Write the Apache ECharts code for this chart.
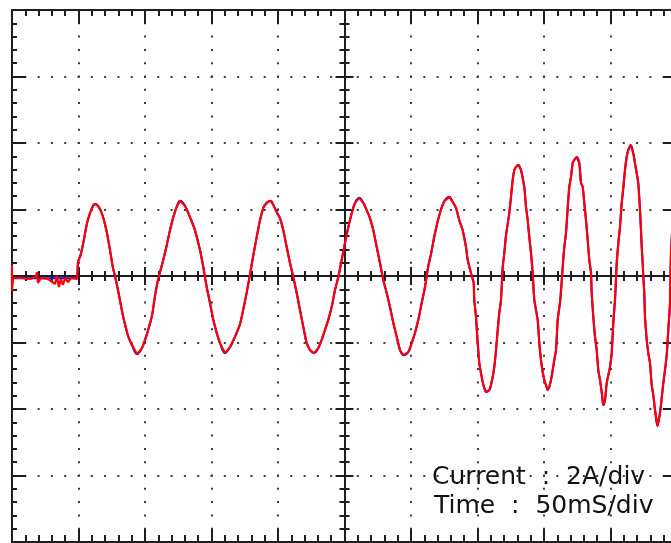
<!DOCTYPE html>
<html>
<head>
<meta charset="utf-8">
<script src="https://cdn.jsdelivr.net/npm/echarts@6/dist/echarts.min.js"></script>
<style>
html, body { margin: 0; padding: 0; background: #fff; }
#scope { width: 671px; height: 543px; }
</style>
</head>
<body>
<div id="scope"></div>
<script>
// scope settings: 50 mS/div across, 2 A/div up
var timeRange = [0, 500];
var timeDiv = 50;
var centreRange = [-250, 250];   // same screen, counted from the centre line
var currentRange = [-8, 8];
var currentDiv = 2;
var scaleText = ['Current  :  2A/div', 'Time  :  50mS/div'];

// [ms, A] before the trigger (red channel is noisy, blue is clean)
var redLead = [
    [0, 0.33], [0, -0.45], [0.8, -0.06], [7.5, -0.06], [13.5, -0.09], [18.0, -0.03],
    [18.8, 0.12], [19.5, -0.21], [21.8, -0.06], [27.1, -0.09], [32.3, -0.24], [33.8, 0.0],
    [35.3, -0.33], [36.8, -0.09], [38.3, -0.27], [39.9, -0.06], [42.1, -0.18], [44.4, -0.06],
    [48.9, -0.09], [49.6, 0.42]
];
var blueLead = [[0, -0.07], [49.2, -0.07], [49.6, 0.42]];

// [ms, A] after the trigger, both channels
var sweep = [
    [51.5, 0.62], [53.38, 0.95], [56.39, 1.59], [58.65, 1.89], [60.90, 2.11], [62.41, 2.17], [64.66, 2.11],
    [66.92, 1.95], [69.17, 1.68], [71.43, 1.29], [73.68, 0.78], [75.94, 0.24], [77.44, 0],
    [79.70, -0.42], [83.46, -1.20], [87.22, -1.80], [90.23, -2.08], [93.99, -2.35], [97.74, -2.17],
    [101.50, -1.74], [105.26, -1.20], [107.52, -0.60], [109.77, -0.12],
    [113.53, 0.45], [116.31, 0.92], [118.80, 1.38], [121.28, 1.77], [123.83, 2.08], [126.32, 2.26],
    [130.08, 2.11], [133.83, 1.77], [137.59, 1.38], [141.35, 0.78], [143.83, 0.27],
    [146.39, -0.33], [148.87, -0.81], [151.35, -1.32], [153.91, -1.71], [156.39, -2.02], [160.15, -2.32],
    [163.91, -2.14], [167.67, -1.83], [171.43, -1.45], [173.91, -1.0], [176.47, -0.5],
    [178.95, 0.05], [181.43, 0.62], [183.98, 1.17], [186.47, 1.68], [188.95, 2.05], [191.50, 2.20],
    [194.51, 2.26], [196.47, 2.14], [199.02, 1.92], [201.50, 1.74], [203.99, 1.38], [206.54, 0.87],
    [209.02, 0.39], [211.50, -0.03],
    [214.06, -0.51], [216.54, -1.02], [219.02, -1.53], [221.58, -2.02], [224.06, -2.23], [227.07, -2.32],
    [230.30, -2.17], [232.86, -1.92], [235.34, -1.62], [237.82, -1.32], [240.38, -0.93], [242.86, -0.42],
    [245.34, -0.03],
    [247.89, 0.48], [250.38, 0.99], [252.86, 1.47], [255.41, 1.89], [257.89, 2.20], [261.13, 2.35],
    [264.14, 2.20], [266.69, 1.98], [269.17, 1.74], [271.65, 1.38], [274.21, 0.87], [276.69, 0.39],
    [279.17, -0.12], [281.73, -0.51], [284.21, -0.93], [286.69, -1.41], [289.25, -1.83], [291.73, -2.23],
    [294.21, -2.38], [297.97, -2.29], [300.53, -2.02], [303.01, -1.71], [305.49, -1.32], [308.05, -0.81],
    [310.53, -0.33],
    [313.01, 0.30], [315.04, 0.66], [317.52, 1.19], [320.08, 1.65], [322.56, 2.00], [325.04, 2.25],
    [328.80, 2.38], [331.35, 2.23], [333.83, 2.05], [336.32, 1.68], [338.87, 1.38], [341.35, 0.87],
    [342.63, 0.48], [345.11, 0.09],
    [347.14, -0.21], [347.59, -0.72], [348.87, -1.23], [350.15, -2.02], [351.35, -2.62], [352.63, -2.92],
    [353.91, -3.19], [355.11, -3.37], [356.39, -3.49], [358.87, -3.43], [360.15, -3.28], [361.43, -3.04],
    [362.63, -2.74], [363.91, -2.23], [365.19, -1.62], [366.39, -1.11], [367.67, -0.72],
    [368.95, 0.27], [370.15, 0.69], [371.43, 1.23], [373.91, 1.89], [376.47, 2.89], [377.67, 3.19],
    [378.95, 3.28], [380.68, 3.34], [382.71, 3.19], [385.19, 2.68], [386.47, 2.08], [387.74, 1.68],
    [388.95, 1.17], [390.23, 0.69], [391.50, 0.09],
    [392.71, -0.72], [395.26, -1.32], [396.47, -2.02], [397.74, -2.53], [399.02, -2.89], [400.22, -3.13],
    [401.50, -3.28], [402.78, -3.43], [403.98, -3.34], [405.26, -3.13], [406.54, -2.83], [407.74, -2.53],
    [409.02, -2.23], [410.30, -1.32], [412.26, -0.72],
    [414.06, 0.27], [415.26, 0.87], [416.54, 1.29], [417.82, 2.05], [419.02, 2.68], [420.30, 2.98],
    [421.58, 3.40], [422.78, 3.49], [424.59, 3.58], [426.54, 3.40], [427.82, 2.80], [429.10, 2.68],
    [430.30, 2.20], [431.58, 1.68], [432.86, 1.08], [434.06, 0.48], [435.34, 0.09],
    [435.86, -0.51], [437.07, -1.23], [438.35, -1.83], [439.62, -2.23], [440.83, -2.83], [442.11, -3.13],
    [443.38, -3.49], [444.59, -3.88], [445.86, -3.73], [447.14, -3.22], [449.62, -2.74], [450.90, -2.32],
    [452.10, -1.41], [453.38, -0.72],
    [454.66, 0.38], [455.86, 0.98], [457.14, 1.48], [458.42, 2.19], [459.62, 2.64], [460.90, 3.19],
    [462.18, 3.59], [463.38, 3.79], [465.18, 3.94], [467.14, 3.69], [468.42, 3.39], [469.70, 3.09],
    [470.90, 2.79], [472.18, 1.98], [472.93, 1.38], [473.46, 0.88], [474.21, 0.38], [474.66, -0.02],
    [475.41, -0.52], [475.94, -1.23], [477.21, -1.92], [478.41, -2.32], [479.70, -2.62], [480.98, -3.28],
    [482.18, -3.58], [483.46, -4.03], [485.34, -4.51], [487.22, -4.12], [488.50, -3.67], [489.70, -3.22],
    [490.98, -2.83], [492.26, -2.38], [493.46, -1.62], [494.74, -0.81], [495.49, 0.69], [497.74, 2.29]
];

var ink = '#1e1e1e';
var dots = { color: '#3c3c3c', width: 2, type: [2, 11.3], dashOffset: 1 };

function timeAxis(range, position, inside, len, minorLen, onZero, grid) {
    return {
        type: 'value', position: position,
        min: range[0], max: range[1], interval: timeDiv,
        axisLine: { show: true, onZero: onZero, onZeroAxisIndex: 0, lineStyle: { color: ink, width: 2 } },
        axisTick: { show: true, inside: inside, length: len, lineStyle: { color: ink, width: 2 } },
        minorTick: { show: true, splitNumber: 5, length: minorLen, lineStyle: { color: ink, width: 2 } },
        axisLabel: { show: false },
        splitLine: { show: grid, lineStyle: dots }
    };
}

function currentAxis(position, inside, len, minorLen, onZero, grid) {
    return {
        type: 'value', position: position,
        min: currentRange[0], max: currentRange[1], interval: currentDiv,
        // the centre one sits on zero of the centred time axis (index 2)
        axisLine: { show: true, onZero: onZero, onZeroAxisIndex: 2, lineStyle: { color: ink, width: 2 } },
        axisTick: { show: true, inside: inside, length: len, lineStyle: { color: ink, width: 2 } },
        minorTick: { show: true, splitNumber: 5, length: minorLen, lineStyle: { color: ink, width: 2 } },
        axisLabel: { show: false },
        splitLine: { show: grid, lineStyle: dots }
    };
}

var chart = echarts.init(document.getElementById('scope'), null, { renderer: 'canvas' });
chart.setOption({
    animation: false,
    backgroundColor: '#fff',
    grid: { left: 12, top: 10, width: 665, height: 532, outerBoundsMode: 'none', containLabel: false },
    xAxis: [
        timeAxis(timeRange, 'top', true, 14, 6, false, true),
        timeAxis(timeRange, 'bottom', true, 13, 7, false, false),
        // centre line, ticks on both sides
        timeAxis(centreRange, 'bottom', true, 9, 5, true, false),
        timeAxis(centreRange, 'bottom', false, 9, 5, true, false)
    ],
    yAxis: [
        currentAxis('left', true, 14, 5, false, true),
        currentAxis('right', true, 14, 5, false, false),
        currentAxis('left', true, 9, 5, true, false),
        currentAxis('left', false, 9, 5, true, false)
    ],
    series: [
        {
            type: 'line', xAxisIndex: 0, yAxisIndex: 0,
            data: blueLead.concat(sweep),
            showSymbol: false, smooth: 0.4,
            lineStyle: { color: '#0000ff', width: 2 }
        },
        {
            type: 'line', xAxisIndex: 0, yAxisIndex: 0,
            data: redLead.concat(sweep),
            showSymbol: false,
            lineStyle: { color: '#ff0000', width: 2.2 }
        }
    ],
    graphic: [
        { type: 'text', left: 432, top: 465, style: { text: scaleText[0], font: '25px "DejaVu Sans"', fill: '#111' } },
        { type: 'text', left: 434, top: 494, style: { text: scaleText[1], font: '25px "DejaVu Sans"', fill: '#111' } }
    ]
});
</script>
</body>
</html>
